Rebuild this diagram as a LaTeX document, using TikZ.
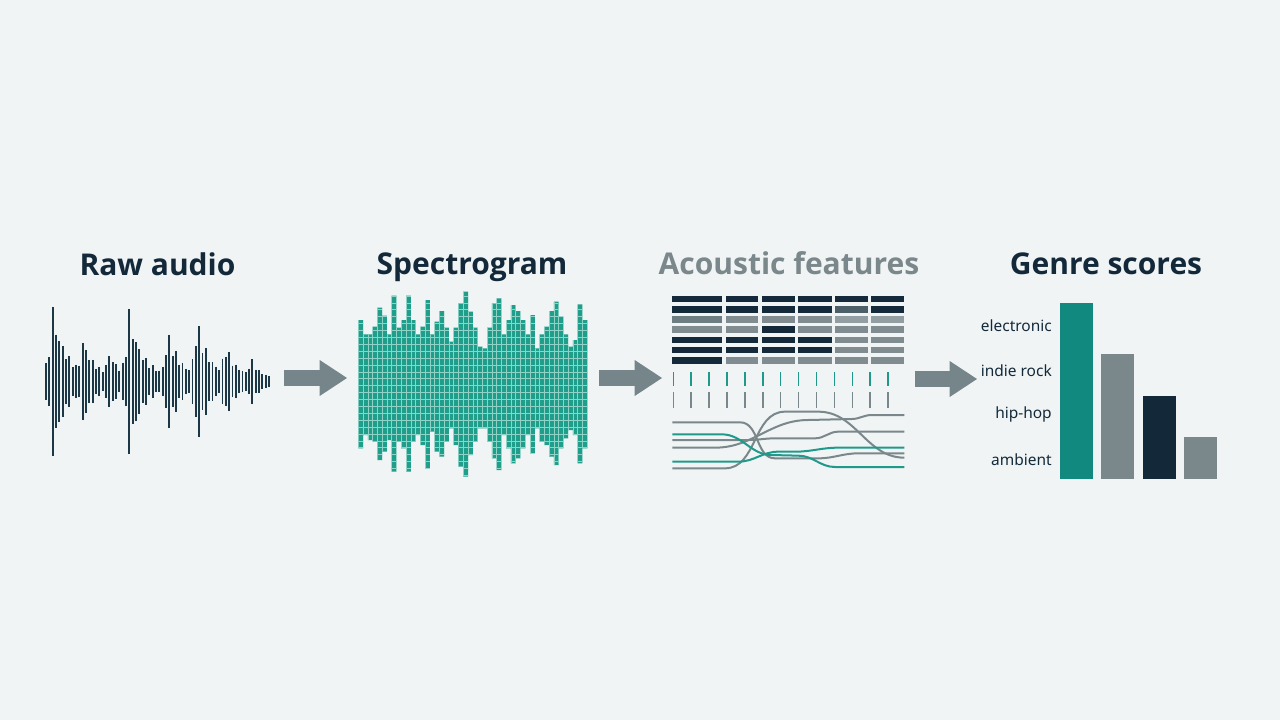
\documentclass[tikz,border=0pt]{standalone}
\usepackage{fontspec}
\setmainfont{Noto Sans}
\newfontfamily\titlefont{Open Sans}
\usetikzlibrary{arrows.meta}
\definecolor{bg}{HTML}{F0F4F5}
\definecolor{ink}{HTML}{13293A}
\definecolor{wavec}{HTML}{1C3846}
\definecolor{specc}{HTML}{1E9E8B}
\definecolor{specgrid}{HTML}{8FD3C7}
\definecolor{tealbar}{HTML}{11897E}
\definecolor{tealline}{HTML}{1F9A8A}
\definecolor{grayc}{HTML}{7A878B}
\definecolor{arrowc}{HTML}{75858A}
\definecolor{fD}{HTML}{14293A}
\definecolor{fS}{HTML}{4C5F68}
\definecolor{fM}{HTML}{6E7D82}
\definecolor{fG}{HTML}{808C90}
\definecolor{fL}{HTML}{929EA1}
\begin{document}
\begin{tikzpicture}[x=0.75pt,y=-0.75pt,
  declare function={burst(\x,\c,\a,\d)=\a*exp(max(-12,0-max(\c-\x,0)/4-max(\x-\c,0)/\d));},
  title/.style={font=\titlefont\bfseries\fontsize{22.5}{26}\selectfont,text=ink,anchor=base,inner sep=0pt},
  glabel/.style={font=\fontsize{11.6}{14}\selectfont,text=ink,anchor=east,inner sep=0pt},
  wavebar/.style={draw=wavec,line width=1.45pt},
  bigarrow/.style={draw=arrowc,line width=12pt,-{Triangle[length=20.5pt,width=27pt,line width=0pt]}},
  curveg/.style={draw=grayc,line width=1.5pt},
  curvet/.style={draw=tealline,line width=1.5pt},
  tickt/.style={draw=tealline,line width=1.1pt},
  tickg/.style={draw=grayc,line width=1.1pt}]
\fill[bg] (0,0) rectangle (1280,720);
\useasboundingbox (0,0) rectangle (1280,720);

% titles
\node[title] (t1) at (157.5,275) {Raw audio};
\node[title] (t2) at (472,274) {Spectrogram};
\node[title,text=grayc] (t3) at (789,274) {Acoustic features};
\node[title] (t4) at (1106,274) {Genre scores};

% waveform
\foreach \i in {0,...,67}{
  \pgfmathsetmacro\xx{46+\i*3.33}
  \pgfmathsetmacro\h{4.5+(0.8+0.2*cos(\i*157))*max(burst(\xx,52.7,75,13),burst(\xx,83,43,11),burst(\xx,109,28,10),burst(\xx,129,72,13),burst(\xx,168,50,12),burst(\xx,197,62,12),burst(\xx,225,36,11),burst(\xx,251,21,9))*(1-0.6*max(0,\xx-255)/17)}
  \draw[wavebar] ({\xx},{381.5-\h}) -- ({\xx},{381.5+\h});
}

% spectrogram
\def\specdata{105/490,148/450,148/465,125/470,68/525,92/500,148/465,32/560,128/470,105/490,32/560,105/470,148/450,125/480,45/550,148/440,110/500,78/515,128/470,170/430,128/480,55/545,20/575,80/510,128/470,185/430,190/430,128/470,55/520,40/555,148/450,105/490,60/535,78/520,105/490,148/450,90/505,190/430,148/470,125/480,78/515,50/540,95/490,148/460,185/435,165/450,58/535,105/490}
\fill[specc] \foreach \t/\b [count=\k from 0] in \specdata {
  ({358.3+\k*4.77},{285+\t/3}) rectangle ({358.3+(\k+1)*4.77},{285+\b/3}) };
\begin{scope}
  \clip \foreach \t/\b [count=\k from 0] in \specdata {
    ({358.3+\k*4.77},{285+\t/3}) rectangle ({358.3+(\k+1)*4.77},{285+\b/3}) };
  \foreach \j in {0,...,28}{
    \draw[specgrid,line width=0.4pt] (350,{289+\j*6.9}) -- (600,{289+\j*6.9});
  }
  \foreach \k in {0,...,48}{
    \draw[specgrid,line width=0.4pt] ({358.3+\k*4.77},280) -- ({358.3+\k*4.77},490);
  }
\end{scope}

% arrows
\coordinate (a1s) at (284,378); \coordinate (a1e) at (347,378);
\coordinate (a2s) at (599,378); \coordinate (a2e) at (662,378);
\coordinate (a3s) at (915,379); \coordinate (a3e) at (977,379);
\draw[bigarrow] (a1s) -- (a1e);
\draw[bigarrow] (a2s) -- (a2e);
\draw[bigarrow] (a3s) -- (a3e);

% feature grid
\foreach \row [count=\r from 0] in {{D,D,D,D,D,D},{D,D,D,D,S,D},{M,G,G,G,L,L},{G,G,D,G,G,G},{D,D,D,D,G,G},{D,D,D,D,G,G},{D,G,G,G,G,G}}{
  \foreach \c [count=\k from 0] in \row {
    \pgfmathsetmacro\xa{{672.3,725.7,761.7,798.3,835,871}[\k]}
    \pgfmathsetmacro\xb{{722.3,758.3,795,831.7,867.7,904.3}[\k]}
    \fill[f\c] ({\xa},{295.7+\r*10.2}) rectangle ({\xb},{302.4+\r*10.2});
  }
}

% ticks
\foreach \k in {0,...,12}{
  \draw[tickt] ({673.3+17.9*\k},372) -- ++(0,13.5);
  \draw[tickg] ({673.3+17.9*\k},392) -- ++(0,15.5);
}

% curves
\begin{scope}[shift={(665,405)},x=0.25pt,y=-0.25pt]
  \draw[curveg] (22,190) -- (180,190) to[out=0,in=180] (360,20) -- (460,20) to[out=0,in=180] (718,158);
  \draw[curveg] (22,128) -- (150,128) to[out=0,in=180] (430,45) -- (560,42) to[out=0,in=180] (620,30) -- (718,30);
  \draw[curveg] (22,105) -- (250,105) to[out=0,in=180] (330,100) -- (450,100) to[out=0,in=180] (520,80) -- (718,80);
  \draw[curveg] (22,52) -- (225,52) to[out=0,in=180] (330,160) -- (460,160) to[out=0,in=180] (580,145) -- (718,145);
  \draw[curvet] (22,88) -- (170,88) to[out=0,in=180] (320,150) -- (400,152) to[out=0,in=180] (510,186) -- (718,186);
  \draw[curvet] (22,170) -- (220,170) to[out=0,in=180] (340,140) -- (390,140) to[out=0,in=180] (520,128) -- (718,128);
\end{scope}

% bar chart
\fill[tealbar] (1060,302.7) rectangle (1092.7,479.3);
\fill[grayc] (1101,354.3) rectangle (1134.3,479.3);
\fill[ink] (1142.7,396) rectangle (1176,479.3);
\fill[grayc] (1184,437.3) rectangle (1217.3,479.3);
\node[glabel] (l1) at (1052,326) {electronic};
\node[glabel] (l2) at (1052,370.7) {indie rock};
\node[glabel] (l3) at (1052,414) {hip-hop};
\node[glabel] (l4) at (1052,459.3) {ambient};
\end{tikzpicture}
\end{document}
